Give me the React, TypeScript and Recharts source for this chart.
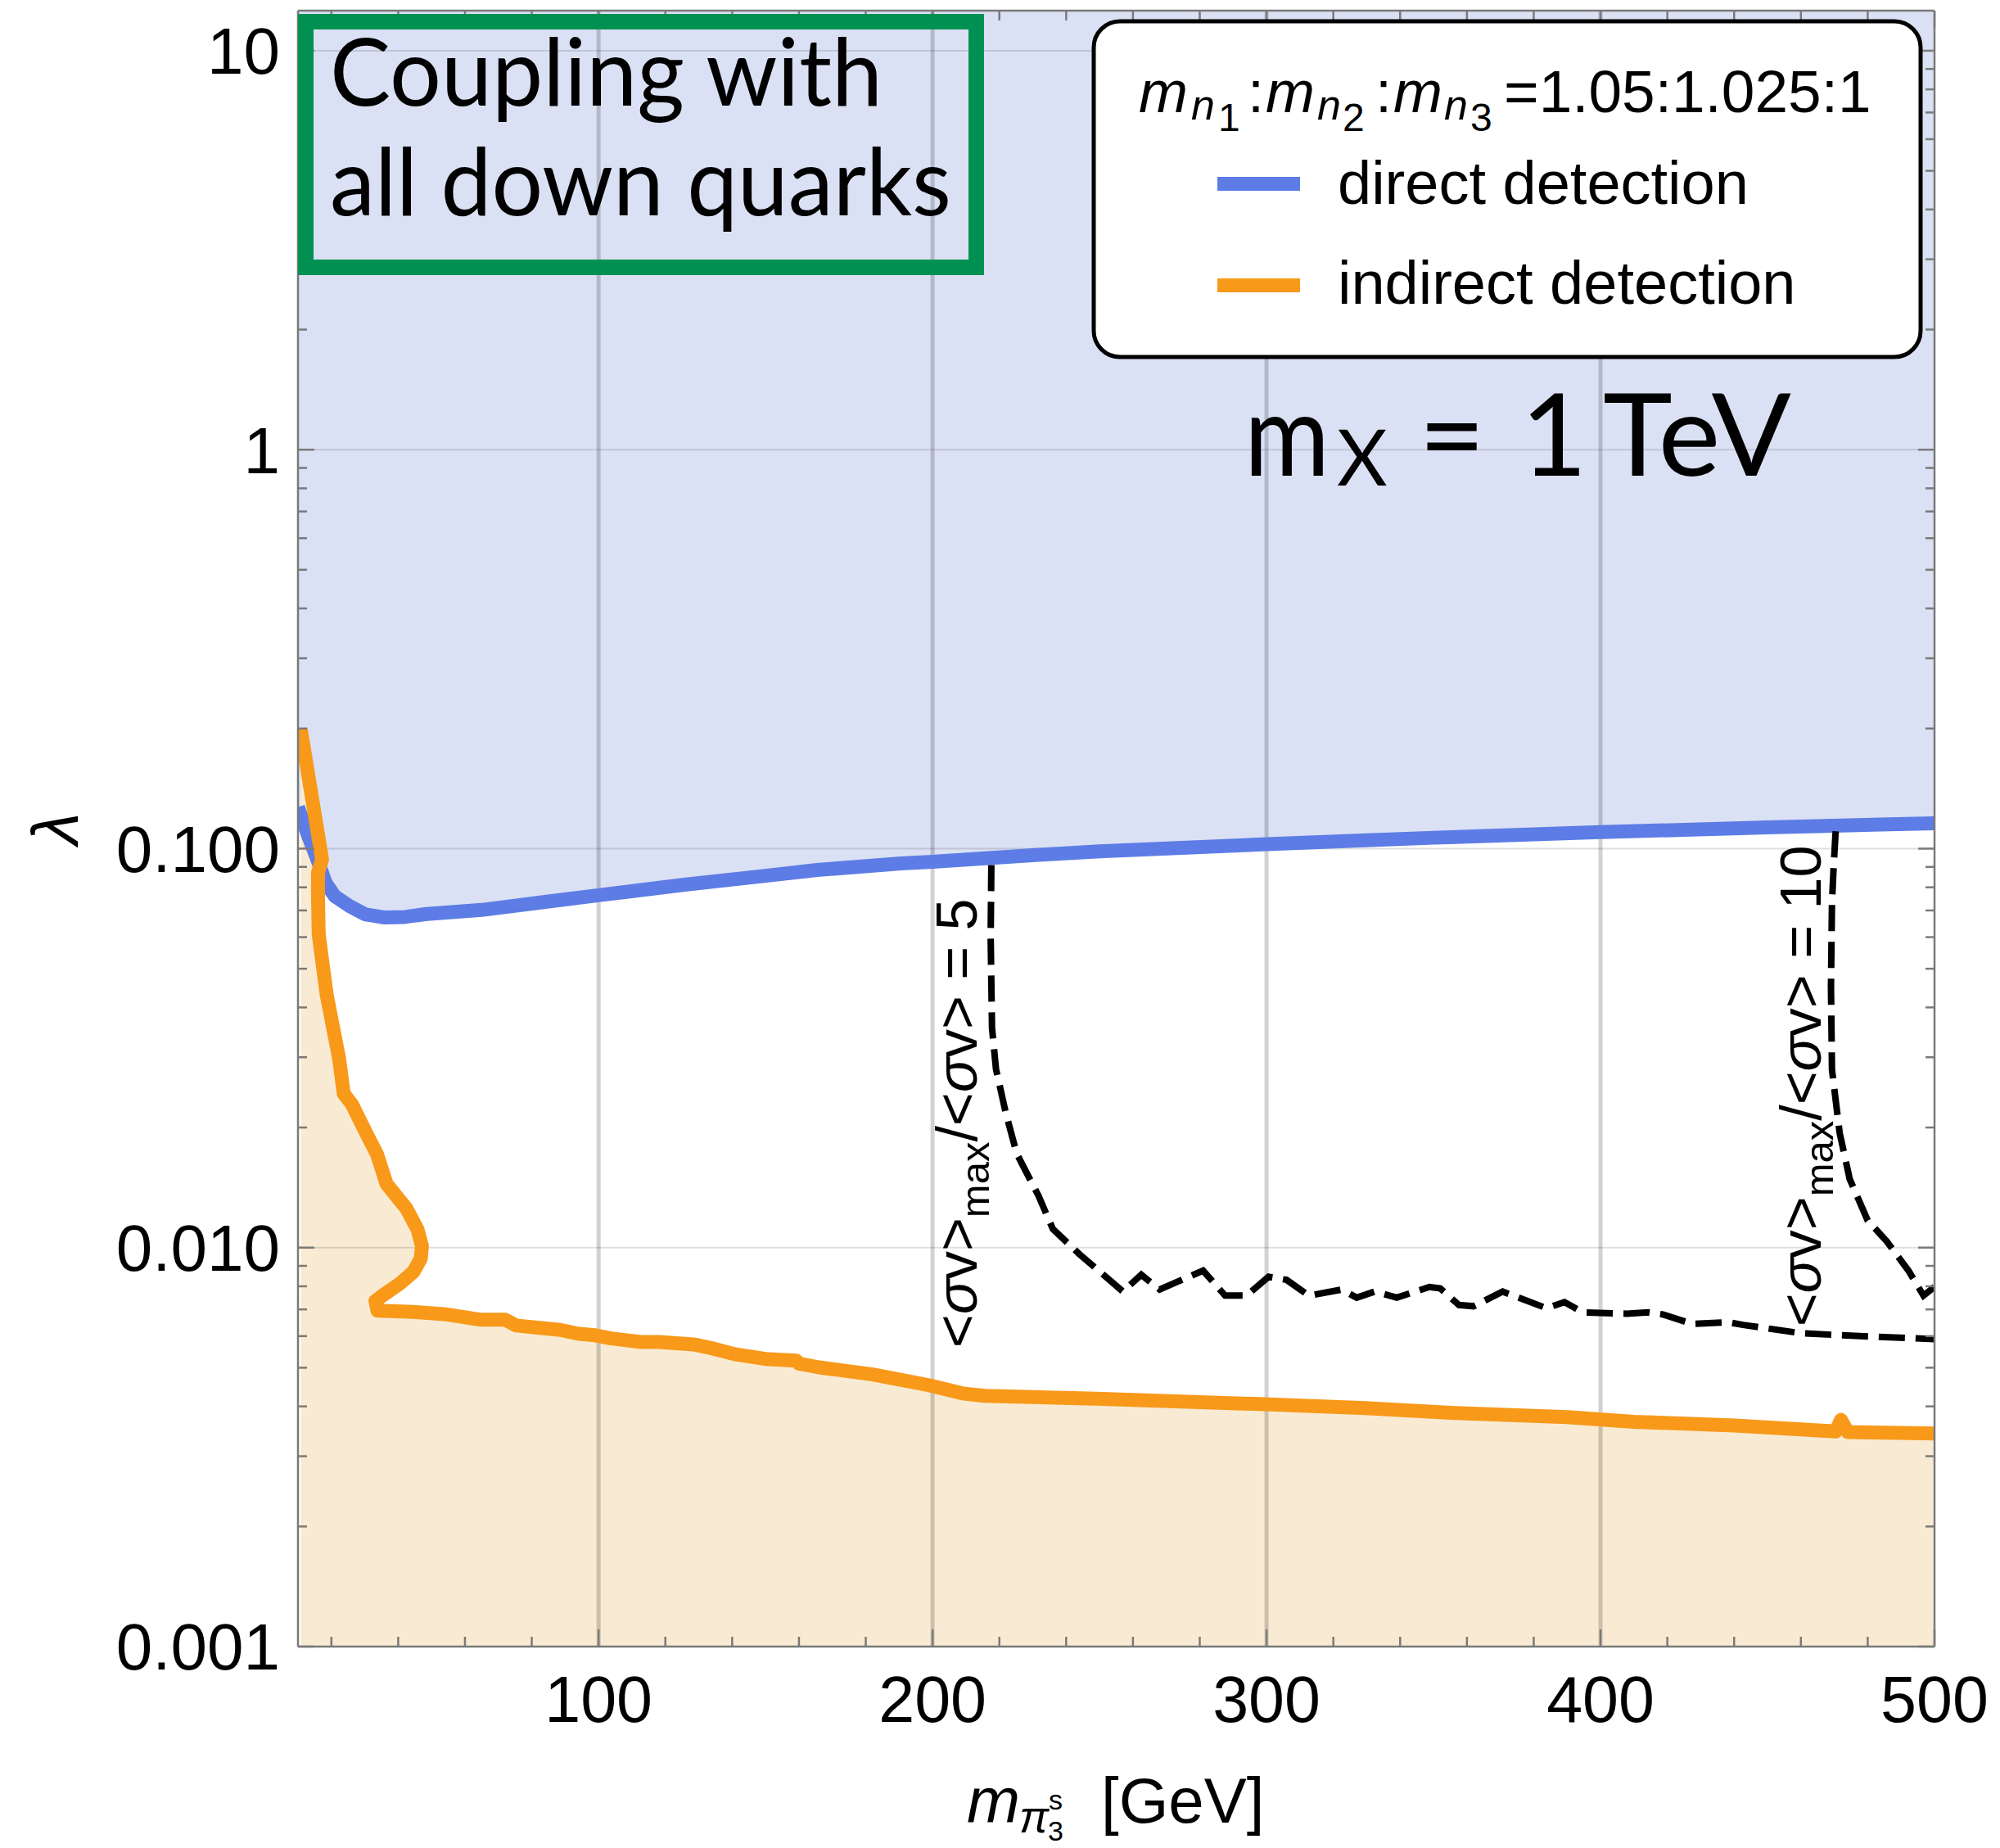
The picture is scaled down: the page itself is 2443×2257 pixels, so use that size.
import React from 'react';
import { ComposedChart, Area, Line, XAxis, YAxis, ReferenceLine, ReferenceDot } from 'recharts';

const W = 2443;
const H = 2257;
const PLOT_TOP = 13;
const PLOT_BOTTOM = 2011;
const PLOT_LEFT = 364;
const PLOT_RIGHT = 2363;

const X_DOMAIN: [number, number] = [10, 500];
const Y_DOMAIN: [number, number] = [0.001, 12.6];

const X_MAJOR = [100, 200, 300, 400, 500];
const X_MINOR = [20, 40, 60, 80, 120, 140, 160, 180, 220, 240, 260, 280, 320, 340, 360, 380, 420, 440, 460, 480];
const Y_MAJOR = [0.001, 0.01, 0.1, 1, 10];
const Y_MAJOR_LABELS = ['0.001', '0.010', '0.100', '1', '10'];
const Y_MINOR = [
  0.002, 0.003, 0.004, 0.005, 0.006, 0.007, 0.008, 0.009,
  0.02, 0.03, 0.04, 0.05, 0.06, 0.07, 0.08, 0.09,
  0.2, 0.3, 0.4, 0.5, 0.6, 0.7, 0.8, 0.9,
  2, 3, 4, 5, 6, 7, 8, 9,
];
const GRID_X = [100, 200, 300, 400];
const GRID_Y = [0.01, 0.1, 1, 10];

// direct detection boundary
const DIRECT_X = [10, 13, 16, 18.3, 21, 25.4, 30, 36, 42, 48, 65, 85, 100, 125.7, 150, 166, 190.6, 200, 229.9, 250, 300, 350, 400, 450, 500];
const DIRECT_Y = [0.127, 0.108, 0.093, 0.082, 0.076, 0.0718, 0.0685, 0.0672, 0.0674, 0.0685, 0.0702, 0.0737, 0.0764, 0.0812, 0.0855, 0.0885, 0.0918, 0.0927, 0.0963, 0.0985, 0.1026, 0.1065, 0.110, 0.113, 0.1158];

// indirect detection boundary (parametric curve, ordered along the curve)
const INDIRECT_X = [10.8, 17.2, 16.0, 16.0, 16.2, 18.6, 22.3, 23.7, 26.1, 30.5, 33.7, 36.5, 42.5, 45.8, 47.1, 46.8, 44.6, 40.3, 35.5, 33.2, 33.8, 44.6, 54.5, 64.4, 72, 75.3, 88.5, 94, 98.3, 103.7, 112.6, 118.1, 128.4, 134.5, 141, 150.8, 159.2, 160, 166, 182, 198.9, 209, 215.6, 249, 299.4, 329.6, 356.4, 390, 410, 440.2, 470.4, 472, 474, 500];
const INDIRECT_Y = [0.2, 0.094, 0.087, 0.075, 0.061, 0.043, 0.0298, 0.0243, 0.0229, 0.0193, 0.0171, 0.01445, 0.01252, 0.0111, 0.0101, 0.0094, 0.0087, 0.0081, 0.0076, 0.00735, 0.00695, 0.0069, 0.0068, 0.0066, 0.0066, 0.00638, 0.00622, 0.00608, 0.00604, 0.00592, 0.0058, 0.0058, 0.00572, 0.00558, 0.0054, 0.00525, 0.00521, 0.00512, 0.00501, 0.00481, 0.00452, 0.00431, 0.00425, 0.00418, 0.00405, 0.00396, 0.00385, 0.00376, 0.00366, 0.00358, 0.00346, 0.0037, 0.00345, 0.00342];

// <σv>max/<σv> = 5 contour
const C5_X = [217.6, 217.4, 217.8, 219, 221.9, 225.2, 231.7, 236, 243.9, 257, 262.5, 268, 281, 287.6, 294, 300.6, 306, 312.7, 322.5, 327, 332.4, 339, 348.8, 352, 357.6, 362, 370.7, 383.8, 389.2, 394.7, 407.8, 414.3, 418.7, 427.4, 438.3, 442.7, 460.1, 477.6, 500];
const C5_Y = [0.091, 0.06, 0.0355, 0.028, 0.0218, 0.0172, 0.0135, 0.01114, 0.00964, 0.00776, 0.00855, 0.00785, 0.00876, 0.00758, 0.00758, 0.00845, 0.0083, 0.00758, 0.00785, 0.00749, 0.00776, 0.00749, 0.00797, 0.0079, 0.00718, 0.00713, 0.00776, 0.00705, 0.0073, 0.00688, 0.00683, 0.00688, 0.0068, 0.00644, 0.0065, 0.0064, 0.0061, 0.006, 0.0059];

// <σv>max/<σv> = 10 contour
const C10_X = [470.4, 469.8, 469.3, 469, 469.3, 471.6, 474.6, 480, 485.7, 492.2, 496.7, 500];
const C10_Y = [0.1105, 0.09, 0.0732, 0.0452, 0.0279, 0.0194, 0.01486, 0.01169, 0.01037, 0.00876, 0.00758, 0.00797];

const CONTOUR_LABEL_X = [213.2, 466];
const CONTOUR_LABEL_Y = [0.0205, 0.0254];
const CONTOUR_LABEL_VALUE = ['5', '10'];

const toRows = (xs: number[], ys: number[]) => xs.map((x, i) => ({ x, y: ys[i] }));
const directData = toRows(DIRECT_X, DIRECT_Y);
const indirectData = toRows(INDIRECT_X, INDIRECT_Y);
const c5Data = toRows(C5_X, C5_Y);
const c10Data = toRows(C10_X, C10_Y);
const X_TICKS = [...X_MINOR, ...X_MAJOR].sort((a, b) => a - b);
const Y_TICKS = [...Y_MINOR, ...Y_MAJOR].sort((a, b) => a - b);

const BLUE = '#5D7CE5';
const ORANGE = '#F8991A';
const BLUE_FILL = '#DBE1F4';
const ORANGE_FILL = '#F9EBD3';
const GREEN = '#009152';
const AXIS = '#7a7a7a';
const SANS = '"Liberation Sans", Arial, Helvetica, sans-serif';
const GILL = 'Lato, "Open Sans", sans-serif';

function XTick(props: any) {
  const { x, y, payload } = props;
  const v = payload.value;
  const major = X_MAJOR.indexOf(v) >= 0;
  const len = major ? 21 : 12;
  return (
    <g>
      <line x1={x} x2={x} y1={PLOT_BOTTOM} y2={PLOT_BOTTOM - len} stroke={AXIS} strokeWidth={2.5} />
      <line x1={x} x2={x} y1={PLOT_TOP} y2={PLOT_TOP + len} stroke={AXIS} strokeWidth={2.5} />
      {major && (
        <text x={x} y={y} dy="0.71em" textAnchor="middle" fontFamily={SANS} fontSize={79} fill="#000">
          {String(v)}
        </text>
      )}
    </g>
  );
}

function YTick(props: any) {
  const { x, y, payload } = props;
  const v = payload.value;
  const idx = Y_MAJOR.indexOf(v);
  const major = idx >= 0;
  const len = major ? 20 : 11;
  return (
    <g>
      <line x1={PLOT_LEFT} x2={PLOT_LEFT + len} y1={y} y2={y} stroke={AXIS} strokeWidth={2.5} />
      <line x1={PLOT_RIGHT} x2={PLOT_RIGHT - len} y1={y} y2={y} stroke={AXIS} strokeWidth={2.5} />
      {major && (
        <text x={x} y={y} dy="0.355em" textAnchor="end" fontFamily={SANS} fontSize={80} fill="#000">
          {Y_MAJOR_LABELS[idx]}
        </text>
      )}
    </g>
  );
}

function makeContourLabel(value: string) {
  return (p: any) => {
    const { cx, cy } = p;
    return (
      <text
        x={cx}
        y={cy}
        transform={`rotate(-90 ${cx} ${cy})`}
        textAnchor="middle"
        fontFamily={SANS}
        fontSize={70}
        fill="#000"
      >
        <tspan>{'<'}</tspan>
        <tspan fontStyle="italic">σ</tspan>
        <tspan>{'v>'}</tspan>
        <tspan fontSize={49} dy={15}>max</tspan>
        <tspan dy={-15}>{'/<'}</tspan>
        <tspan fontStyle="italic">σ</tspan>
        <tspan>{`v> = ${value}`}</tspan>
      </text>
    );
  };
}

function Overlay() {
  return (
    <svg
      width={W}
      height={H}
      style={{ position: 'absolute', left: 0, top: 0, pointerEvents: 'none' }}
    >
      {/* green box */}
      <rect x={373.5} y={26.5} width={819} height={300} fill="none" stroke={GREEN} strokeWidth={19} />
      <text x={403} y={129} fontFamily={GILL} fontSize={114} fill="#000" textLength={675} lengthAdjust="spacingAndGlyphs">
        Coupling with
      </text>
      <text x={403} y={263} fontFamily={GILL} fontSize={114} fill="#000" textLength={759} lengthAdjust="spacingAndGlyphs">
        all down quarks
      </text>

      {/* legend */}
      <rect x={1336} y={26} width={1010} height={410} rx={32} ry={32} fill="#fff" stroke="#000" strokeWidth={5} />
      <g fontFamily={SANS} fill="#000">
        <text x={1391} y={137} fontSize={72} fontStyle="italic">m</text>
        <text x={1455} y={146} fontSize={52} fontStyle="italic">n</text>
        <text x={1488} y={160} fontSize={48}>1</text>
        <text x={1524} y={137} fontSize={72}>:</text>
        <text x={1546} y={137} fontSize={72} fontStyle="italic">m</text>
        <text x={1609} y={146} fontSize={52} fontStyle="italic">n</text>
        <text x={1640} y={160} fontSize={48}>2</text>
        <text x={1680} y={137} fontSize={72}>:</text>
        <text x={1702} y={137} fontSize={72} fontStyle="italic">m</text>
        <text x={1764} y={146} fontSize={52} fontStyle="italic">n</text>
        <text x={1796} y={160} fontSize={48}>3</text>
        <text x={1837} y={137} fontSize={73}>=1.05:1.025:1</text>
        <rect x={1487} y={216} width={101} height={17} fill={BLUE} />
        <text x={1634} y={249} fontSize={74}>direct detection</text>
        <rect x={1487} y={340} width={101} height={17} fill={ORANGE} />
        <text x={1634} y={371} fontSize={74}>indirect detection</text>
      </g>

      {/* m_X = 1 TeV */}
      <g fontFamily={GILL} fill="#000">
        <text x={1520} y={581} fontSize={140} textLength={104} lengthAdjust="spacingAndGlyphs">m</text>
        <text x={1633} y={593} fontSize={95}>X</text>
        <text x={1733} y={581} fontSize={140}>=</text>
        <text x={1898} y={581} fontSize={140} textAnchor="middle">1</text>
        <text x={1958} y={581} fontSize={140} textLength={230} lengthAdjust="spacingAndGlyphs">TeV</text>
      </g>

      {/* axis labels */}
      <text
        x={67}
        y={1012}
        transform="rotate(-90 67 1012)"
        textAnchor="middle"
        dominantBaseline="central"
        fontFamily={SANS}
        fontStyle="italic"
        fontSize={80}
        fill="#000"
      >
        λ
      </text>
      <g fontFamily={SANS} fill="#000">
        <text x={1181} y={2226} fontSize={78} fontStyle="italic">m</text>
        <text x={1245} y={2238} fontSize={54} fontStyle="italic">π</text>
        <text x={1281} y={2210} fontSize={34}>s</text>
        <text x={1280} y={2248} fontSize={34}>3</text>
        <text x={1345} y={2226} fontSize={78}>[GeV]</text>
      </g>
    </svg>
  );
}

export default function App() {
  return (
    <div style={{ position: 'absolute', left: 0, top: 0, width: W, height: H, background: '#fff' }}>
      <ComposedChart width={W} height={H} margin={{ top: PLOT_TOP, right: W - PLOT_RIGHT, bottom: 0, left: 0 }}>
        <XAxis
          type="number"
          dataKey="x"
          domain={X_DOMAIN}
          allowDataOverflow
          ticks={X_TICKS}
          interval={0}
          tick={(p: any) => <XTick {...p} />}
          tickLine={false}
          tickSize={0}
          tickMargin={36}
          axisLine={{ stroke: AXIS, strokeWidth: 2.5 }}
          height={H - PLOT_BOTTOM}
        />
        <YAxis
          type="number"
          scale="log"
          dataKey="y"
          domain={Y_DOMAIN}
          allowDataOverflow
          ticks={Y_TICKS}
          interval={0}
          tick={(p: any) => <YTick {...p} />}
          tickLine={false}
          tickSize={0}
          tickMargin={22}
          axisLine={{ stroke: AXIS, strokeWidth: 2.5 }}
          width={PLOT_LEFT}
        />
        <Area
          data={directData}
          dataKey="y"
          type="linear"
          baseValue={Y_DOMAIN[1]}
          fill={BLUE_FILL}
          fillOpacity={1}
          stroke="none"
          isAnimationActive={false}
        />
        <Area
          data={indirectData}
          dataKey="y"
          type="linear"
          baseValue={Y_DOMAIN[0]}
          fill={ORANGE_FILL}
          fillOpacity={1}
          stroke="none"
          isAnimationActive={false}
        />
        {GRID_X.map((v) => (
          <ReferenceLine key={'gx' + v} x={v} stroke="#000" strokeOpacity={0.18} strokeWidth={5} />
        ))}
        {GRID_Y.map((v) => (
          <ReferenceLine key={'gy' + v} y={v} stroke="#000" strokeOpacity={0.12} strokeWidth={2} />
        ))}
        <Line
          data={directData}
          dataKey="y"
          type="linear"
          stroke={BLUE}
          strokeWidth={17}
          strokeLinejoin="round"
          dot={false}
          activeDot={false}
          isAnimationActive={false}
        />
        <Line
          data={indirectData}
          dataKey="y"
          type="linear"
          stroke={ORANGE}
          strokeWidth={17}
          strokeLinejoin="round"
          dot={false}
          activeDot={false}
          isAnimationActive={false}
        />
        <Line
          data={c5Data}
          dataKey="y"
          type="linear"
          stroke="#000"
          strokeWidth={8}
          strokeDasharray="32 13"
          dot={false}
          activeDot={false}
          isAnimationActive={false}
        />
        <Line
          data={c10Data}
          dataKey="y"
          type="linear"
          stroke="#000"
          strokeWidth={8}
          strokeDasharray="32 13"
          dot={false}
          activeDot={false}
          isAnimationActive={false}
        />
        {CONTOUR_LABEL_X.map((x, i) => (
          <ReferenceDot
            key={'cl' + i}
            x={x}
            y={CONTOUR_LABEL_Y[i]}
            r={1}
            shape={makeContourLabel(CONTOUR_LABEL_VALUE[i])}
          />
        ))}
        <ReferenceLine y={Y_DOMAIN[1]} stroke={AXIS} strokeWidth={2.5} />
        <ReferenceLine x={X_DOMAIN[1]} stroke={AXIS} strokeWidth={2.5} />
      </ComposedChart>
      <Overlay />
    </div>
  );
}
